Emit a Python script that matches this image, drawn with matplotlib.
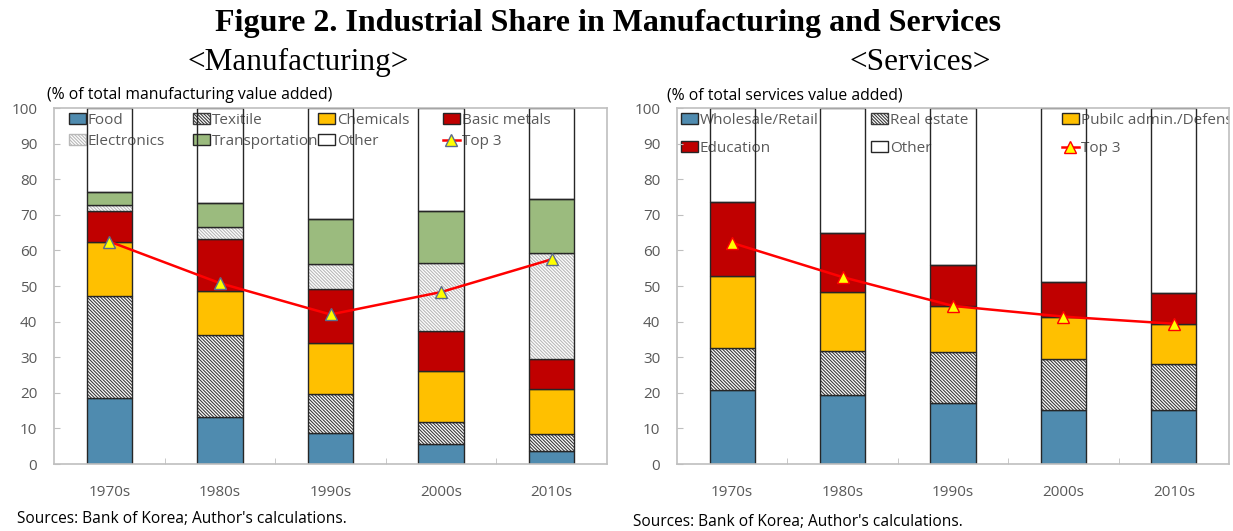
import numpy as np
import matplotlib.pyplot as plt
from matplotlib.patches import Patch
from matplotlib.lines import Line2D

# data (% shares)
decades = ['1970s', '1980s', '1990s', '2000s', '2010s']

food = [18.4, 13.2, 8.7, 5.6, 3.7]
textile = [28.8, 23.0, 10.9, 6.1, 4.7]
chemicals = [15.3, 12.3, 14.3, 14.4, 12.8]
basic_metals = [8.6, 14.6, 15.3, 11.2, 8.4]
electronics = [1.6, 3.4, 7.1, 19.3, 29.6]
transportation = [3.7, 6.9, 12.4, 14.6, 15.1]
other_mfg = [23.6, 26.6, 31.3, 28.8, 25.7]
top3_mfg = [62.5, 50.8, 42.0, 48.3, 57.5]

wholesale = [20.9, 19.3, 17.1, 15.1, 15.3]
real_estate = [11.6, 12.5, 14.3, 14.3, 12.7]
public_admin = [20.3, 16.5, 13.0, 12.0, 11.4]
education = [20.9, 16.7, 11.5, 9.8, 8.7]
other_srv = [26.3, 35.0, 44.1, 48.8, 51.9]
top3_srv = [62.1, 52.5, 44.4, 41.4, 39.4]

BLUE = '#4F8BAF'
GOLD = '#FFC000'
RED = '#C00000'
GREEN = '#9BBB7E'
GRAY = '#595959'
FONT = 'Open Sans'
HATCH = '\\' * 10

W, H = 1233, 531
fig = plt.figure(figsize=(W / 100, H / 100), dpi=100)
plt.rcParams['font.family'] = FONT
plt.rcParams['hatch.linewidth'] = 0.8


def fx(px):
    return px / W


def fy(py):
    return 1 - py / H


def make_axes(left, right):
    ax = fig.add_axes([fx(left), fy(464), fx(right - left), fy(108) - fy(464)])
    ax.set_xlim(-0.5, 4.5)
    ax.set_ylim(0, 100)
    ax.set_yticks(np.arange(0, 101, 10))
    ax.set_xticks(range(5))
    ax.set_xticklabels(decades)
    ax.set_xticks([0.5, 1.5, 2.5, 3.5], minor=True)
    ax.tick_params(axis='x', which='major', length=0, pad=15, labelsize=11, labelcolor=GRAY)
    ax.tick_params(axis='x', which='minor', direction='in', length=4, color='#BFBFBF')
    ax.tick_params(axis='y', direction='in', length=4, color='#BFBFBF', pad=12,
                   labelsize=11, labelcolor=GRAY)
    for s in ax.spines.values():
        s.set_color('#BFBFBF')
        s.set_linewidth(1.2)
    return ax


def stack(ax, series):
    x = np.arange(5)
    bottom = np.zeros(5)
    for vals, face, hatch, hcol in series:
        vals = np.array(vals)
        if hatch:
            ax.bar(x, vals, 0.41, bottom=bottom, color='white', edgecolor=hcol,
                   hatch=hatch, linewidth=0)
            ax.bar(x, vals, 0.41, bottom=bottom, fill=False, edgecolor='#262626', linewidth=1)
        else:
            ax.bar(x, vals, 0.41, bottom=bottom, facecolor=face, edgecolor='#262626', linewidth=1)
        bottom += vals


def col_legends(ax, columns, xs, top, spacing):
    for handles, x in zip(columns, xs):
        leg = ax.legend(handles=handles, loc='upper left', bbox_to_anchor=(fx(x), fy(top)),
                        bbox_transform=fig.transFigure, frameon=False, borderpad=0,
                        borderaxespad=0, handlelength=1.1, handleheight=0.7,
                        handletextpad=0.12, labelspacing=spacing, fontsize=11,
                        labelcolor=GRAY)
        leg.set_zorder(0.5)
        for t in leg.get_texts():
            t.set_clip_box(ax.bbox)
            t.set_clip_on(True)
        ax.add_artist(leg)
    ax.legend_ = None   # avoid drawing the last column twice


# ---- Manufacturing
ax1 = make_axes(54, 607)
stack(ax1, [
    (food, BLUE, None, None),
    (textile, None, HATCH, '#3A3A3A'),
    (chemicals, GOLD, None, None),
    (basic_metals, RED, None, None),
    (electronics, None, HATCH, '#B8B8B8'),
    (transportation, GREEN, None, None),
    (other_mfg, 'none', None, None),
])
ax1.plot(range(5), top3_mfg, color='#FF0000', lw=1.8, marker='^', ms=9,
         mfc='#FFFF00', mec='#5B6B8C', mew=1, zorder=3)

h_food = Patch(facecolor=BLUE, edgecolor='#262626', label='Food')
h_tex = Patch(facecolor='white', edgecolor='#3A3A3A', hatch=HATCH, label='Texitile')
h_chem = Patch(facecolor=GOLD, edgecolor='#262626', label='Chemicals')
h_met = Patch(facecolor=RED, edgecolor='#262626', label='Basic metals')
h_ele = Patch(facecolor='white', edgecolor='#B8B8B8', hatch=HATCH, label='Electronics')
h_tra = Patch(facecolor=GREEN, edgecolor='#262626', label='Transportation')
h_oth = Patch(facecolor='white', edgecolor='#262626', label='Other')
h_top = Line2D([], [], color='#FF0000', lw=1.8, marker='^', ms=8, mfc='#FFFF00',
               mec='#5B6B8C', label='Top 3')
col_legends(ax1, [[h_food, h_ele], [h_tex, h_tra], [h_chem, h_oth], [h_met, h_top]],
            [69, 193, 318, 443], 113, 0.4)

# ---- Services
ax2 = make_axes(677, 1229)
stack(ax2, [
    (wholesale, BLUE, None, None),
    (real_estate, None, HATCH, '#3A3A3A'),
    (public_admin, GOLD, None, None),
    (education, RED, None, None),
    (other_srv, 'none', None, None),
])
ax2.plot(range(5), top3_srv, color='#FF0000', lw=1.8, marker='^', ms=9,
         mfc='#FFFF00', mec='#FF0000', mew=1, zorder=3)

s_wr = Patch(facecolor=BLUE, edgecolor='#262626', label='Wholesale/Retail')
s_re = Patch(facecolor='white', edgecolor='#3A3A3A', hatch=HATCH, label='Real estate')
s_pa = Patch(facecolor=GOLD, edgecolor='#262626', label='Pubilc admin./Defens')
s_ed = Patch(facecolor=RED, edgecolor='#262626', label='Education')
s_ot = Patch(facecolor='white', edgecolor='#262626', label='Other')
s_top = Line2D([], [], color='#FF0000', lw=1.8, marker='^', ms=8, mfc='#FFFF00',
               mec='#FF0000', label='Top 3')
col_legends(ax2, [[s_wr, s_ed], [s_re, s_ot], [s_pa, s_top]],
            [681, 871, 1062], 113, 0.85)

# ---- titles and notes
fig.text(0.493, fy(23), 'Figure 2. Industrial Share in Manufacturing and Services',
         ha='center', va='center', family='Liberation Serif', weight='bold', fontsize=23)
fig.text(fx(298), fy(62), '<Manufacturing>', ha='center', va='center',
         family='Liberation Serif', fontsize=22.5)
fig.text(fx(920), fy(62), '<Services>', ha='center', va='center',
         family='Liberation Serif', fontsize=22.5)
fig.text(fx(47), fy(95), '(% of total manufacturing value added)', ha='left', va='center',
         fontsize=11.3)
fig.text(fx(667), fy(95), '(% of total services value added)', ha='left', va='center',
         fontsize=11.3)
fig.text(fx(17), fy(519), "Sources: Bank of Korea; Author's calculations.", ha='left',
         va='center', fontsize=11.2)
fig.text(fx(633), fy(522), "Sources: Bank of Korea; Author's calculations.", ha='left',
         va='center', fontsize=11.2)

fig.savefig('out.png', dpi=100)
